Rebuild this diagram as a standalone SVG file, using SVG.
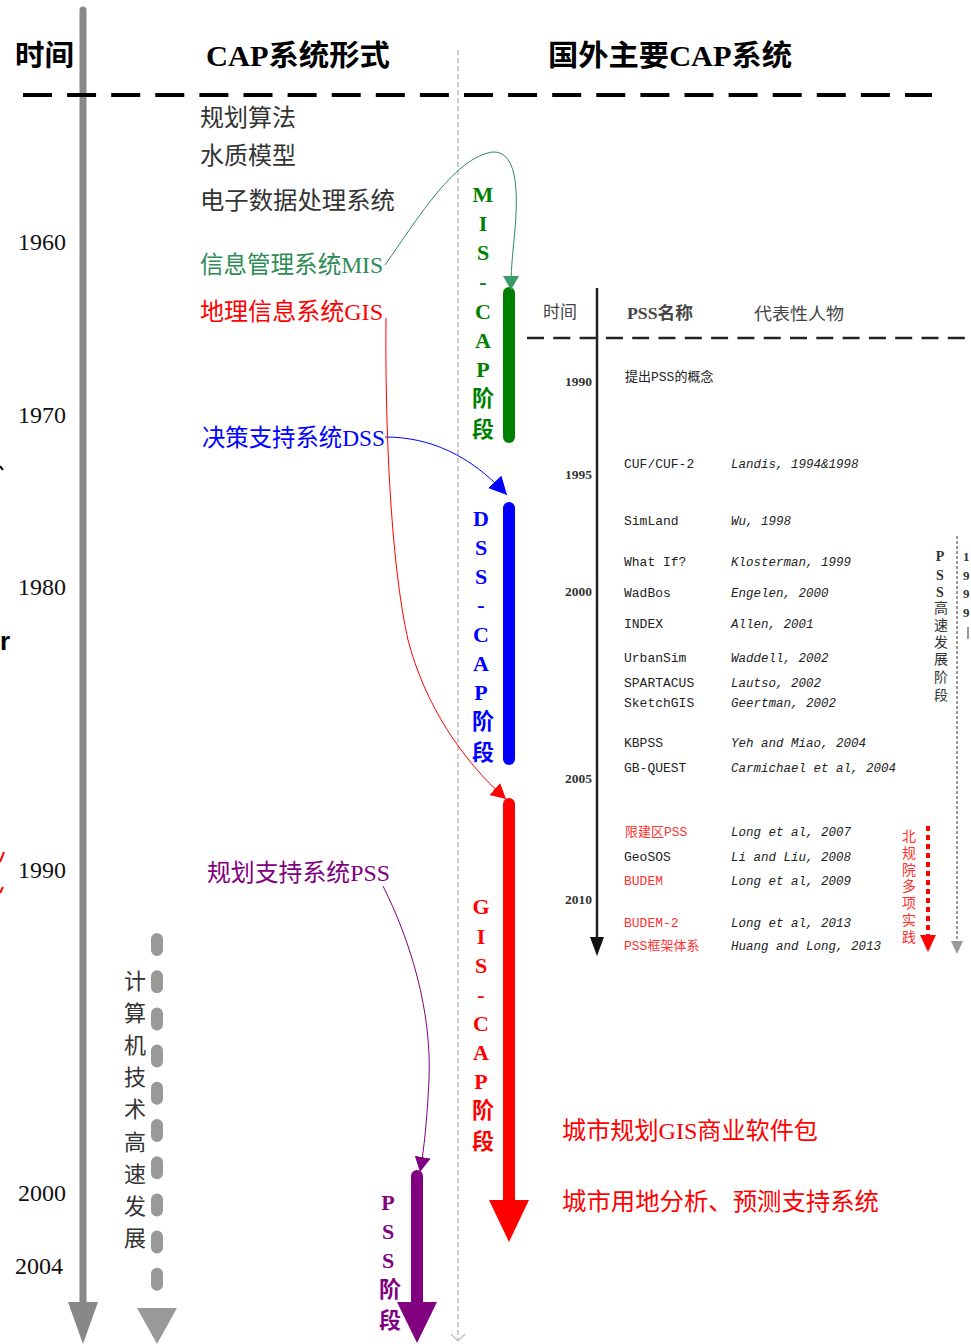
<svg xmlns="http://www.w3.org/2000/svg" width="971" height="1344" viewBox="0 0 971 1344">
<style>
text{font-family:"Liberation Serif","Noto Sans CJK SC",serif}
.h{font-size:29px;font-weight:bold;fill:#000}
.yr{font-size:24px;fill:#111}
.lc{font-size:24px}
.vl{font-size:22px;font-weight:bold;text-anchor:middle}
.vc{font-size:22px;text-anchor:middle;fill:#333}
.th{font-size:17px;fill:#444}
.ty{font-size:13.5px;font-weight:bold;fill:#333;text-anchor:end}
.tn{font-family:"Liberation Mono","Noto Sans CJK SC",monospace;font-size:13px;fill:#222}
.ta{font-family:"Liberation Mono","Noto Sans CJK SC",monospace;font-size:12.5px;font-style:italic;fill:#222}
.rd{fill:#ff3030}
.vs{font-size:14px;text-anchor:middle}
</style>
<defs>
<marker id="ag" markerUnits="userSpaceOnUse" markerWidth="16" markerHeight="18" refX="14" refY="8" orient="auto"><path d="M0,0 L14,8 L0,16 z" fill="#3a9a6a"/></marker>
<marker id="ab" markerUnits="userSpaceOnUse" markerWidth="20" markerHeight="20" refX="18" refY="9" orient="auto"><path d="M0,0 L18,9 L0,18 z" fill="#0000ff"/></marker>
<marker id="ar" markerUnits="userSpaceOnUse" markerWidth="18" markerHeight="18" refX="15" refY="8" orient="auto"><path d="M0,0 L15,8 L0,16 z" fill="#ff0000"/></marker>
<marker id="ap" markerUnits="userSpaceOnUse" markerWidth="18" markerHeight="18" refX="15" refY="8" orient="auto"><path d="M0,0 L15,8 L0,16 z" fill="#800080"/></marker>
</defs>

<g id="frame">
  <line x1="83" y1="10" x2="83" y2="1305" stroke="#888" stroke-width="7" stroke-linecap="round"/>
  <polygon points="68,1302 98,1302 83,1344" fill="#888"/>
  <line x1="23" y1="95" x2="932" y2="95" stroke="#000" stroke-width="4" stroke-dasharray="29 15.1"/>
  <line x1="458" y1="50" x2="458" y2="1340" stroke="#bbb" stroke-width="1.5" stroke-dasharray="5 3"/>
  <polyline points="451,1334 458,1341 465,1334" fill="none" stroke="#bbb" stroke-width="1.2"/>
  <text x="0" y="650" font-size="26" font-weight="bold" fill="#000" style="font-family:'Liberation Sans',sans-serif">r</text>
  <line x1="0" y1="466" x2="3" y2="470" stroke="#000" stroke-width="2"/>
  <line x1="0" y1="862" x2="4" y2="852" stroke="#f00" stroke-width="2"/>
  <line x1="0" y1="893" x2="3" y2="887" stroke="#f00" stroke-width="2"/>
</g>

<g id="headers">
  <text class="h" x="15" y="66" textLength="59" lengthAdjust="spacingAndGlyphs">时间</text>
  <text class="h" x="206" y="66" textLength="184" lengthAdjust="spacingAndGlyphs">CAP系统形式</text>
  <text class="h" x="548" y="66" textLength="244" lengthAdjust="spacingAndGlyphs">国外主要CAP系统</text>
</g>

<g id="years">
  <text class="yr" x="18" y="250">1960</text>
  <text class="yr" x="18" y="423">1970</text>
  <text class="yr" x="18" y="595">1980</text>
  <text class="yr" x="18" y="878">1990</text>
  <text class="yr" x="18" y="1201">2000</text>
  <text class="yr" x="15" y="1274">2004</text>
</g>

<g id="forms">
  <text class="lc" x="200" y="126" fill="#333" textLength="96" lengthAdjust="spacingAndGlyphs">规划算法</text>
  <text class="lc" x="200" y="164" fill="#333" textLength="96" lengthAdjust="spacingAndGlyphs">水质模型</text>
  <text class="lc" x="200" y="209" fill="#333" textLength="195" lengthAdjust="spacingAndGlyphs">电子数据处理系统</text>
</g>
<g id="node-mis"><text class="lc" x="200" y="273" fill="#2e8b57" textLength="183" lengthAdjust="spacingAndGlyphs">信息管理系统MIS</text></g>
<g id="node-gis"><text class="lc" x="200" y="320" fill="#ff0000" textLength="183" lengthAdjust="spacingAndGlyphs">地理信息系统GIS</text></g>
<g id="node-dss"><text class="lc" x="202" y="446" fill="#0000ff" textLength="183" lengthAdjust="spacingAndGlyphs">决策支持系统DSS</text></g>
<g id="node-pss"><text class="lc" x="207" y="881" fill="#800080" textLength="183" lengthAdjust="spacingAndGlyphs">规划支持系统PSS</text></g>

<g id="stage-mis">
  <line x1="509" y1="293" x2="509" y2="437" stroke="#008000" stroke-width="12" stroke-linecap="round"/>
  <text class="vl" fill="#008000"><tspan x="483" y="202">M</tspan><tspan x="483" y="231">I</tspan><tspan x="483" y="260">S</tspan><tspan x="483" y="289">-</tspan><tspan x="483" y="319">C</tspan><tspan x="483" y="348">A</tspan><tspan x="483" y="377">P</tspan><tspan x="483" y="406">阶</tspan><tspan x="483" y="437">段</tspan></text>
</g>
<g id="stage-dss">
  <line x1="509" y1="508" x2="509" y2="759" stroke="#0000ff" stroke-width="12" stroke-linecap="round"/>
  <text class="vl" fill="#0000ff"><tspan x="481" y="526">D</tspan><tspan x="481" y="555">S</tspan><tspan x="481" y="584">S</tspan><tspan x="481" y="612">-</tspan><tspan x="481" y="642">C</tspan><tspan x="481" y="671">A</tspan><tspan x="481" y="700">P</tspan><tspan x="483" y="729">阶</tspan><tspan x="483" y="760">段</tspan></text>
</g>
<g id="stage-gis">
  <line x1="509" y1="804" x2="509" y2="1205" stroke="#ff0000" stroke-width="12" stroke-linecap="round"/>
  <polygon points="489,1200 529,1200 509,1242" fill="#ff0000"/>
  <text class="vl" fill="#ff0000"><tspan x="481" y="914">G</tspan><tspan x="481" y="944">I</tspan><tspan x="481" y="973">S</tspan><tspan x="481" y="1002">-</tspan><tspan x="481" y="1031">C</tspan><tspan x="481" y="1060">A</tspan><tspan x="481" y="1089">P</tspan><tspan x="483" y="1118">阶</tspan><tspan x="483" y="1149">段</tspan></text>
</g>
<g id="stage-pss">
  <line x1="417" y1="1176" x2="417" y2="1305" stroke="#800080" stroke-width="12" stroke-linecap="round"/>
  <polygon points="397,1302 437,1302 417,1343" fill="#800080"/>
  <text class="vl" fill="#800080"><tspan x="388" y="1210">P</tspan><tspan x="388" y="1239">S</tspan><tspan x="388" y="1268">S</tspan><tspan x="390" y="1297">阶</tspan><tspan x="390" y="1328">段</tspan></text>
</g>

<g id="computer-tech">
  <line x1="157" y1="939" x2="157" y2="1300" stroke="#999" stroke-width="12" stroke-linecap="round" stroke-dasharray="11 26.2"/>
  <polygon points="137,1308 177,1308 157,1344" fill="#999"/>
  <text class="vc"><tspan x="135" y="989">计</tspan><tspan x="135" y="1021">算</tspan><tspan x="135" y="1053">机</tspan><tspan x="135" y="1085">技</tspan><tspan x="135" y="1117">术</tspan><tspan x="135" y="1150">高</tspan><tspan x="135" y="1182">速</tspan><tspan x="135" y="1214">发</tspan><tspan x="135" y="1246">展</tspan></text>
</g>

<g id="gis-products">
  <text class="lc" x="562" y="1139" fill="#ff0000" textLength="256" lengthAdjust="spacingAndGlyphs">城市规划GIS商业软件包</text>
  <text class="lc" x="562" y="1210" fill="#ff0000" textLength="317" lengthAdjust="spacingAndGlyphs">城市用地分析、预测支持系统</text>
</g>

<g id="connectors" fill="none" stroke-width="1">
  <path d="M385,265 C420,215 455,158 492,152 C520,150 518,200 514,240 C512,260 511,272 511,290" stroke="#2e8b57" marker-end="url(#ag)"/>
  <path d="M385,437 C430,437 470,455 507,495" stroke="#0000ff" marker-end="url(#ab)"/>
  <path d="M386,318 C385,420 390,560 408,640 C425,705 462,760 506,799" stroke="#ff0000" marker-end="url(#ar)"/>
  <path d="M383,886 C410,940 432,1010 429,1080 C427,1120 424,1150 420,1172" stroke="#800080" marker-end="url(#ap)"/>
</g>

<g id="pss-table">
  <text class="th" x="543" y="318">时间</text>
  <text class="th" x="627" y="319" font-weight="bold" textLength="66" lengthAdjust="spacingAndGlyphs">PSS名称</text>
  <text class="th" x="754" y="320" textLength="90" lengthAdjust="spacingAndGlyphs">代表性人物</text>
  <line x1="597" y1="288" x2="597" y2="940" stroke="#222" stroke-width="2.5"/>
  <polygon points="590,937 604,937 597,956" fill="#111"/>
  <line x1="527" y1="338" x2="965" y2="338" stroke="#222" stroke-width="2.5" stroke-dasharray="17 9.3"/>

  <text class="ty" x="592" y="386">1990</text>
  <text class="ty" x="592" y="479">1995</text>
  <text class="ty" x="592" y="596">2000</text>
  <text class="ty" x="592" y="783">2005</text>
  <text class="ty" x="592" y="904">2010</text>

  <text class="tn" x="625" y="381" font-size="11.5">提出PSS的概念</text>

  <text class="tn" x="624" y="468">CUF/CUF-2</text><text class="ta" x="731" y="468">Landis, 1994&amp;1998</text>
  <text class="tn" x="624" y="525">SimLand</text><text class="ta" x="731" y="525">Wu, 1998</text>
  <text class="tn" x="624" y="566">What If?</text><text class="ta" x="731" y="566">Klosterman, 1999</text>
  <text class="tn" x="624" y="597">WadBos</text><text class="ta" x="731" y="597">Engelen, 2000</text>
  <text class="tn" x="624" y="628">INDEX</text><text class="ta" x="731" y="628">Allen, 2001</text>
  <text class="tn" x="624" y="662">UrbanSim</text><text class="ta" x="731" y="662">Waddell, 2002</text>
  <text class="tn" x="624" y="687">SPARTACUS</text><text class="ta" x="731" y="687">Lautso, 2002</text>
  <text class="tn" x="624" y="707">SketchGIS</text><text class="ta" x="731" y="707">Geertman, 2002</text>
  <text class="tn" x="624" y="747">KBPSS</text><text class="ta" x="731" y="747">Yeh and Miao, 2004</text>
  <text class="tn" x="624" y="772">GB-QUEST</text><text class="ta" x="731" y="772">Carmichael et al, 2004</text>
  <text class="tn rd" x="625" y="836">限建区PSS</text><text class="ta" x="731" y="836">Long et al, 2007</text>
  <text class="tn" x="624" y="861">GeoSOS</text><text class="ta" x="731" y="861">Li and Liu, 2008</text>
  <text class="tn rd" x="624" y="885">BUDEM</text><text class="ta" x="731" y="885">Long et al, 2009</text>
  <text class="tn rd" x="624" y="927">BUDEM-2</text><text class="ta" x="731" y="927">Long et al, 2013</text>
  <text class="tn rd" x="624" y="950">PSS框架体系</text><text class="ta" x="731" y="950">Huang and Long, 2013</text>

  <text class="vs" fill="#333"><tspan x="940" y="561" font-weight="bold">P</tspan><tspan x="940" y="580" font-weight="bold">S</tspan><tspan x="940" y="597" font-weight="bold">S</tspan><tspan x="941" y="613">高</tspan><tspan x="941" y="630">速</tspan><tspan x="941" y="647">发</tspan><tspan x="941" y="664">展</tspan><tspan x="941" y="682">阶</tspan><tspan x="941" y="700">段</tspan></text>
  <line x1="957" y1="536" x2="957" y2="942" stroke="#999" stroke-width="2" stroke-dasharray="3 2"/>
  <polygon points="951,941 963,941 957,954" fill="#999"/>
  <text font-size="13" font-weight="bold" fill="#333"><tspan x="963" y="561">1</tspan><tspan x="963" y="580">9</tspan><tspan x="963" y="598">9</tspan><tspan x="963" y="617">9</tspan></text>
  <line x1="968" y1="627" x2="968" y2="639" stroke="#555" stroke-width="1.2"/>

  <text class="vs" fill="#ff3030"><tspan x="909" y="841">北</tspan><tspan x="909" y="858">规</tspan><tspan x="909" y="875">院</tspan><tspan x="909" y="891">多</tspan><tspan x="909" y="908">项</tspan><tspan x="909" y="925">实</tspan><tspan x="909" y="942">践</tspan></text>
  <line x1="928" y1="826" x2="928" y2="936" stroke="#ff0000" stroke-width="4" stroke-dasharray="5 4"/>
  <polygon points="920,935 936,935 928,952" fill="#ff0000"/>
</g>
</svg>
